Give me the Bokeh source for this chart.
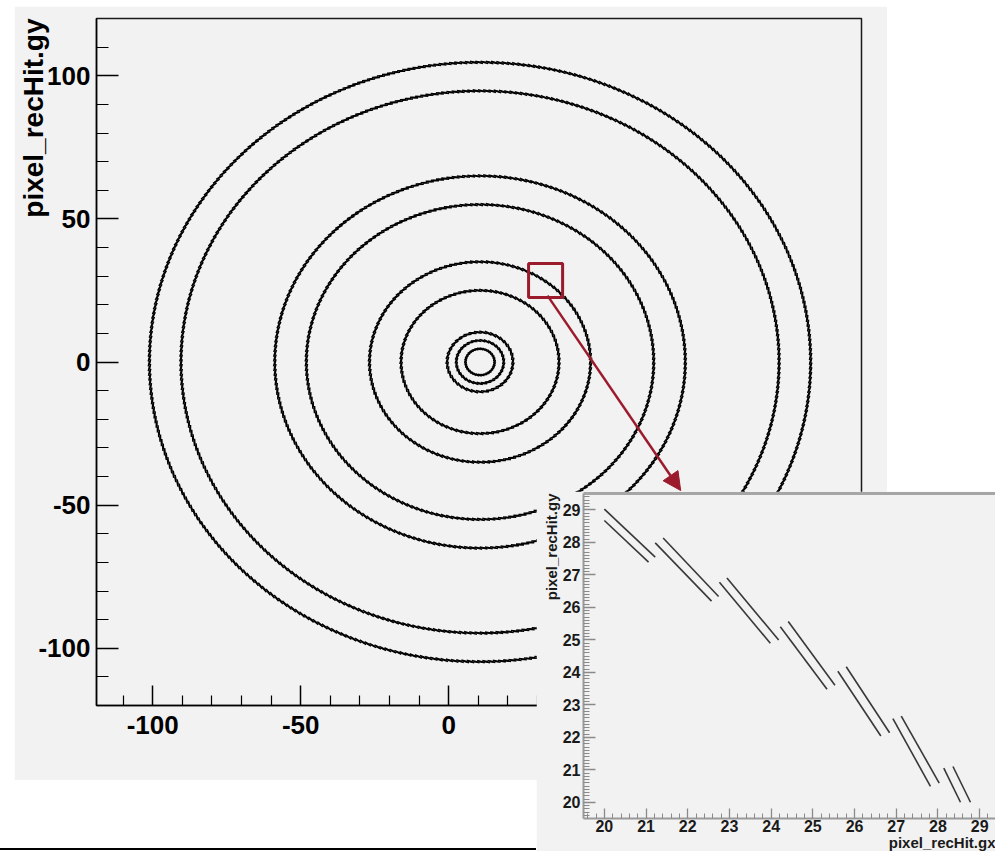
import numpy as np
from bokeh.embed import file_html
from bokeh.layouts import column, row
from bokeh.models import Arrow, FixedTicker, LinearAxis, NormalHead, Range1d, Spacer, Title
from bokeh.plotting import figure
from bokeh.resources import INLINE

# ---------------- global view: rings of reconstructed pixel hits ----------------
ring_radius = [4.6, 7.5, 10.4, 25.0, 35.0, 55.0, 65.0, 94.7, 104.7]
ring_center_x = 10.6      # ring centre along gx
ring_stretch_x = 1.067    # semi-axis along gx relative to the radius

# sensor modules: each ring is drawn as tilted, overlapping straight segments
module_pitch = 1.66
module_length = 1.92
module_tilt_deg = 14.0
module_layer_gap = 0.3

main_major_ticks = [-100, -50, 0, 50, 100]
main_xminor_span = (-110, 130)
main_yminor_span = (-110, 110)

# region shown enlarged in the zoomed view
zoom_box_x = (27.0, 38.5)
zoom_box_y = (22.5, 34.4)
arrow_start = (33.4, 23.2)
arrow_end = (78.4, -44.9)

# ---------------- zoomed view: individual hit segments ----------------
seg_x0 = [20.00, 20.00, 21.41, 21.22, 22.94, 22.76, 24.41, 24.22, 25.80, 25.60, 27.12, 26.92, 28.36, 28.14]
seg_y0 = [29.02, 28.67, 28.13, 27.98, 26.90, 26.77, 25.56, 25.40, 24.17, 24.03, 22.65, 22.57, 21.10, 21.05]
seg_x1 = [21.22, 21.06, 22.74, 22.57, 24.18, 23.98, 25.53, 25.34, 26.84, 26.63, 28.03, 27.82, 28.78, 28.54]
seg_y1 = [27.54, 27.39, 26.33, 26.19, 24.99, 24.89, 23.60, 23.48, 22.14, 22.04, 20.59, 20.49, 20.00, 20.00]
zoom_ticks = list(range(20, 30))

FONT = "Liberation Sans"
PANEL = "#f2f2f2"
RED = "#9b1b2d"


def ring_modules(radii):
    """Endpoints of the tilted module segments forming every ring."""
    tilt = np.radians(module_tilt_deg)
    x0, y0, x1, y1 = [], [], [], []
    for r in radii:
        scale = min(1.0, 0.18 * r / module_pitch)
        pitch, half = module_pitch * scale, 0.5 * module_length * scale
        n = int(round(2 * np.pi * r / pitch))
        for layer in (0, 1):
            rr = r + (layer - 0.5) * module_layer_gap
            th = (np.arange(n) + 0.35 * layer) * 2 * np.pi / n
            cx, cy = rr * np.cos(th), rr * np.sin(th)
            tx, ty = np.sin(th), -np.cos(th)
            dx = tx * np.cos(tilt) + ty * np.sin(tilt)
            dy = -tx * np.sin(tilt) + ty * np.cos(tilt)
            x0.extend(ring_center_x + ring_stretch_x * (cx - half * dx))
            y0.extend(cy - half * dy)
            x1.extend(ring_center_x + ring_stretch_x * (cx + half * dx))
            y1.extend(cy + half * dy)
    return x0, y0, x1, y1


def minor_list(span, step, majors):
    vals = np.arange(span[0], span[1] + step / 2, step)
    return [round(float(v), 3) for v in vals if all(abs(v - m) > 1e-6 for m in majors)]


def axis_title(text, size, color, standoff, valign="bottom"):
    return Title(text=text, align="right", vertical_align=valign, text_font=FONT,
                 text_font_style="bold", text_font_size=size, text_color=color,
                 standoff=standoff)


# ---------------- main figure ----------------
p = figure(width=873, height=774, x_range=Range1d(-119, 139.5), y_range=Range1d(-120, 120),
           output_backend="svg", toolbar_location=None,
           background_fill_color=PANEL, border_fill_color=PANEL,
           min_border_left=82, min_border_right=26, min_border_top=12, min_border_bottom=75)
p.grid.visible = False
p.outline_line_color = "#1a1a1a"
p.outline_line_width = 1.5
p.margin = (6, 0, 0, 14)

hyphen_labels = {t: str(t) for t in main_major_ticks}
p.xaxis.ticker = FixedTicker(ticks=main_major_ticks,
                             minor_ticks=minor_list(main_xminor_span, 10, main_major_ticks))
p.yaxis.ticker = FixedTicker(ticks=main_major_ticks,
                             minor_ticks=minor_list(main_yminor_span, 10, main_major_ticks))
for ax in (p.xaxis[0], p.yaxis[0]):
    ax.axis_line_color = "black"
    ax.axis_line_width = 1.5
    ax.major_tick_line_color = "black"
    ax.major_tick_line_width = 1.5
    ax.minor_tick_line_color = "black"
    ax.minor_tick_line_width = 1.2
    ax.major_tick_out = 0
    ax.minor_tick_out = 0
    ax.major_label_overrides = hyphen_labels
    ax.major_label_text_font = FONT
    ax.major_label_text_font_style = "bold"
    ax.major_label_text_font_size = "26px"
    ax.major_label_text_color = "black"
p.xaxis.major_tick_in = 20
p.xaxis.minor_tick_in = 10
p.xaxis.major_label_standoff = 10
p.yaxis.major_tick_in = 22
p.yaxis.minor_tick_in = 12
p.yaxis.major_label_standoff = 6

# axis title tucked against the tick-label column, top aligned as in ROOT
p.add_layout(axis_title("pixel_recHit.gy", "28px", "black", -30, valign="top"), "left")

mx0, my0, mx1, my1 = ring_modules(ring_radius)
p.segment(x0=mx0, y0=my0, x1=mx1, y1=my1, line_color="black", line_width=1.6)

p.quad(left=[zoom_box_x[0]], right=[zoom_box_x[1]], bottom=[zoom_box_y[0]], top=[zoom_box_y[1]],
       fill_color=None, line_color=RED, line_width=3)
p.add_layout(Arrow(end=NormalHead(size=18, fill_color=RED, line_color=RED),
                   x_start=arrow_start[0], y_start=arrow_start[1],
                   x_end=arrow_end[0], y_end=arrow_end[1],
                   line_color=RED, line_width=2.5))

# ---------------- thin rule below the main panel ----------------
rule = Spacer(width=536, height=2, styles={"background-color": "black"})
rule.margin = (68, 0, 0, 0)

# ---------------- zoomed figure ----------------
AX = "#9a9a9a"
q = figure(width=459, height=360, x_range=Range1d(19.5, 29.38), y_range=Range1d(19.5, 29.5),
           output_backend="svg", toolbar_location=None,
           background_fill_color=PANEL, border_fill_color=PANEL,
           min_border_left=47, min_border_right=0, min_border_top=2, min_border_bottom=33)
q.grid.visible = False
q.outline_line_color = None

q.xaxis.ticker = FixedTicker(ticks=zoom_ticks, minor_ticks=minor_list((19.6, 29.4), 0.2, zoom_ticks))
q.yaxis.ticker = FixedTicker(ticks=zoom_ticks, minor_ticks=minor_list((19.6, 29.4), 0.1, zoom_ticks))
for ax in (q.xaxis[0], q.yaxis[0]):
    ax.axis_line_color = AX
    ax.axis_line_width = 2
    ax.major_tick_line_color = "#8a8a8a"
    ax.major_tick_line_width = 1.3
    ax.minor_tick_line_color = "#8a8a8a"
    ax.minor_tick_line_width = 1
    ax.major_tick_out = 0
    ax.minor_tick_out = 0
    ax.major_label_text_font = FONT
    ax.major_label_text_font_style = "bold"
    ax.major_label_text_font_size = "16px"
    ax.major_label_text_color = "#1a1a1a"
q.xaxis.major_tick_in = 10
q.xaxis.minor_tick_in = 5
q.xaxis.major_label_standoff = 1
q.yaxis.major_tick_in = 12
q.yaxis.minor_tick_in = 6
q.yaxis.major_label_standoff = 3

top_edge = LinearAxis(ticker=FixedTicker(ticks=[]), axis_line_color="#a6a6a6", axis_line_width=3,
                      major_tick_in=0, major_tick_out=0, minor_tick_in=0, minor_tick_out=0,
                      major_label_standoff=0)
q.add_layout(top_edge, "above")

q.add_layout(axis_title("pixel_recHit.gy", "15px", "#1a1a1a", 0), "left")
q.add_layout(axis_title("pixel_recHit.gx", "15px", "#1a1a1a", -6), "below")

q.segment(x0=seg_x0, y0=seg_y0, x1=seg_x1, y1=seg_y1, line_color="#383838", line_width=1.6)

# the zoomed view sits in its own row so its frame is laid out independently
inset_box = row(q)
inset_box.margin = (-359, 0, 0, 536)

page = column(p, rule, inset_box)
open("out.html", "w").write(file_html(page, INLINE))
